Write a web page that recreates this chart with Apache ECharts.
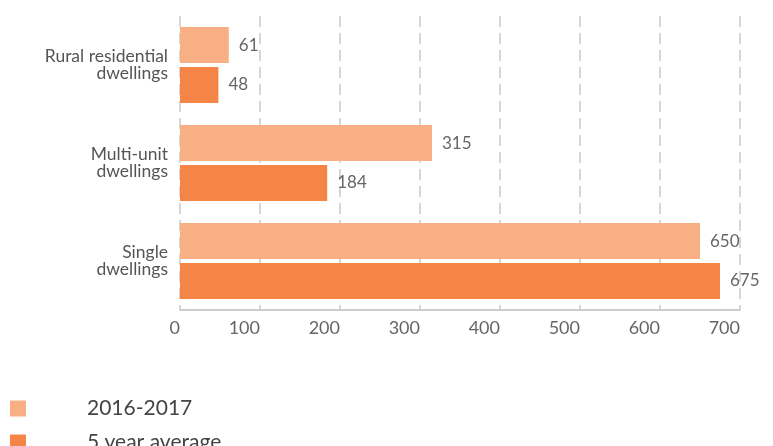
<!DOCTYPE html>
<html>
<head>
<meta charset="utf-8">
<script src="https://cdn.jsdelivr.net/npm/echarts@6/dist/echarts.min.js"></script>
<style>
  html, body { margin: 0; padding: 0; background: #fff; }
  #chart { width: 773px; height: 446px; }
</style>
</head>
<body>
<div id="chart"></div>
<script>
// Dwelling types, listed top to bottom
const categories = ['Rural residential\ndwellings', 'Multi-unit\ndwellings', 'Single\ndwellings'];
const seriesNames = ['2016-2017', '5 year average'];
const values2016 = [61, 315, 650];
const valuesAvg = [48, 184, 675];
const xTicks = [0, 100, 200, 300, 400, 500, 600, 700];

const FONT = 'Lato, "Open Sans", sans-serif';
const colors = ['#F9AF84', '#F58547'];

const chart = echarts.init(document.getElementById('chart'));

const valueLabel = {
  show: true,
  position: 'right',
  distance: 10,
  color: '#666',
  fontSize: 17,
  fontFamily: FONT
};

chart.setOption({
  animation: false,
  color: colors,
  grid: { left: 180, right: 33, top: 16, bottom: 136, containLabel: false },
  legend: {
    left: 10,
    top: 398,
    height: 80,
    orient: 'vertical',
    itemWidth: 16,
    itemHeight: 16,
    itemGap: 13,
    icon: 'rect',
    padding: 0,
    data: seriesNames,
    textStyle: {
      color: '#444',
      fontSize: 21,
      lineHeight: 16,
      fontFamily: FONT,
      padding: [0, 0, 0, 56]
    }
  },
  xAxis: {
    type: 'value',
    min: xTicks[0],
    max: xTicks[xTicks.length - 1],
    interval: 100,
    axisLine: { show: true, lineStyle: { color: '#ccc', width: 2 } },
    axisTick: { show: false },
    axisLabel: {
      color: '#666',
      fontSize: 18,
      fontFamily: FONT,
      margin: 9,
      align: 'right',
      showMinLabel: true,
      showMaxLabel: true
    },
    splitLine: { show: true, lineStyle: { color: '#d6d6d6', width: 2, type: [11, 6] } }
  },
  yAxis: {
    type: 'category',
    inverse: true,
    data: categories,
    axisLine: { show: false },
    axisTick: { show: false },
    axisLabel: {
      color: '#555',
      fontSize: 17.5,
      lineHeight: 17,
      fontFamily: FONT,
      margin: 12,
      align: 'right'
    }
  },
  series: [
    {
      name: seriesNames[0],
      type: 'bar',
      data: values2016,
      barWidth: 36,
      barGap: '11%',
      label: valueLabel
    },
    {
      name: seriesNames[1],
      type: 'bar',
      data: valuesAvg,
      barWidth: 36,
      barGap: '11%',
      label: valueLabel
    }
  ]
});
</script>
</body>
</html>
